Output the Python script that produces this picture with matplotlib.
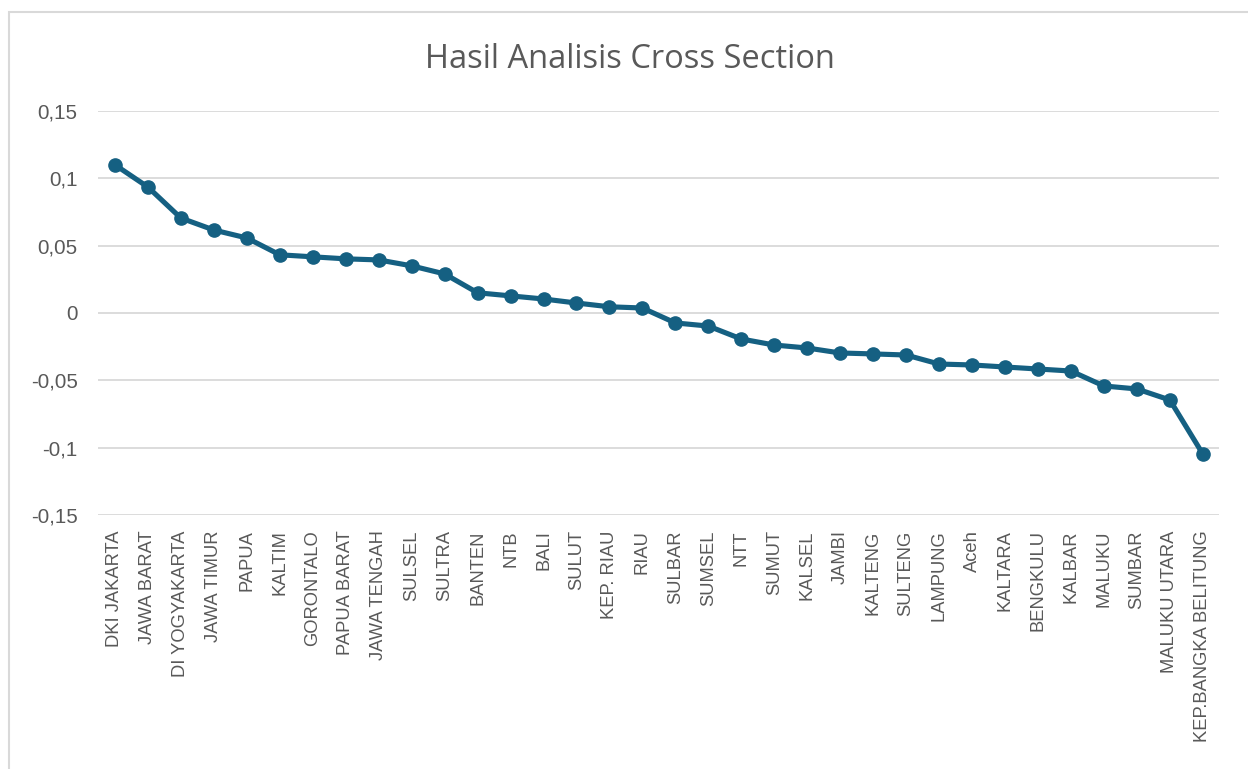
import matplotlib
matplotlib.use("Agg")
from matplotlib import pyplot as plt
from matplotlib.patches import Rectangle
from matplotlib.ticker import FuncFormatter

provinsi = [
    "DKI JAKARTA", "JAWA BARAT", "DI YOGYAKARTA", "JAWA TIMUR", "PAPUA",
    "KALTIM", "GORONTALO", "PAPUA BARAT", "JAWA TENGAH", "SULSEL",
    "SULTRA", "BANTEN", "NTB", "BALI", "SULUT", "KEP. RIAU", "RIAU",
    "SULBAR", "SUMSEL", "NTT", "SUMUT", "KALSEL", "JAMBI", "KALTENG",
    "SULTENG", "LAMPUNG", "Aceh", "KALTARA", "BENGKULU", "KALBAR",
    "MALUKU", "SUMBAR", "MALUKU UTARA", "KEP.BANGKA BELITUNG",
]
nilai = [
    0.110, 0.0935, 0.0705, 0.0616, 0.0557,
    0.0432, 0.0417, 0.0402, 0.0394, 0.0350,
    0.0290, 0.0150, 0.0127, 0.0104, 0.0074, 0.0046, 0.0037,
    -0.0074, -0.0097, -0.0193, -0.0238, -0.0260, -0.0297, -0.0304,
    -0.0312, -0.0379, -0.0386, -0.0401, -0.0416, -0.0431,
    -0.0542, -0.0564, -0.0646, -0.1047,
]
y_ticks = [-0.15, -0.1, -0.05, 0, 0.05, 0.1, 0.15]

teks = "#595959"
garis = "#156082"

fig = plt.figure(figsize=(12.48, 7.69), dpi=100)
# bingkai area chart (hanya sisi kiri dan atas yang terlihat)
fig.patches.append(Rectangle((9 / 1248, -0.1), 1.2, 1 - 12 / 769 + 0.1,
                             transform=fig.transFigure, fill=False,
                             edgecolor="#d9d9d9", linewidth=1.5))

ax = fig.add_axes([0.0789, 0.3303, 0.8981, 0.5254])
x = list(range(len(provinsi)))
ax.plot(x, nilai, color=garis, linewidth=3.7, marker="o", markersize=9.5,
        solid_joinstyle="round", solid_capstyle="round", zorder=3)

ax.set_xlim(-0.5, len(provinsi) - 0.5)
ax.set_ylim(-0.15, 0.15)
ax.set_yticks(y_ticks)
ax.yaxis.set_major_formatter(FuncFormatter(
    lambda v, p: "0" if abs(v) < 1e-9 else f"{v:g}".replace(".", ",")))
ax.grid(axis="y", color="#d9d9d9", linewidth=1.3)
ax.set_axisbelow(True)
for s in ax.spines.values():
    s.set_visible(False)

ax.set_xticks(x)
ax.set_xticklabels(provinsi, rotation=90, fontsize=13.2, color=teks,
                   family="Liberation Sans")
ax.tick_params(axis="both", length=0)
ax.tick_params(axis="x", pad=11)
ax.tick_params(axis="y", pad=15, labelsize=14.8, labelcolor=teks)
for t in ax.get_yticklabels():
    t.set_family("Liberation Sans")

fig.text(0.505, 0.923, "Hasil Analisis Cross Section", ha="center",
         va="center", fontsize=23.5, color=teks, family="Open Sans")

plt.savefig("out.png", dpi=100)
